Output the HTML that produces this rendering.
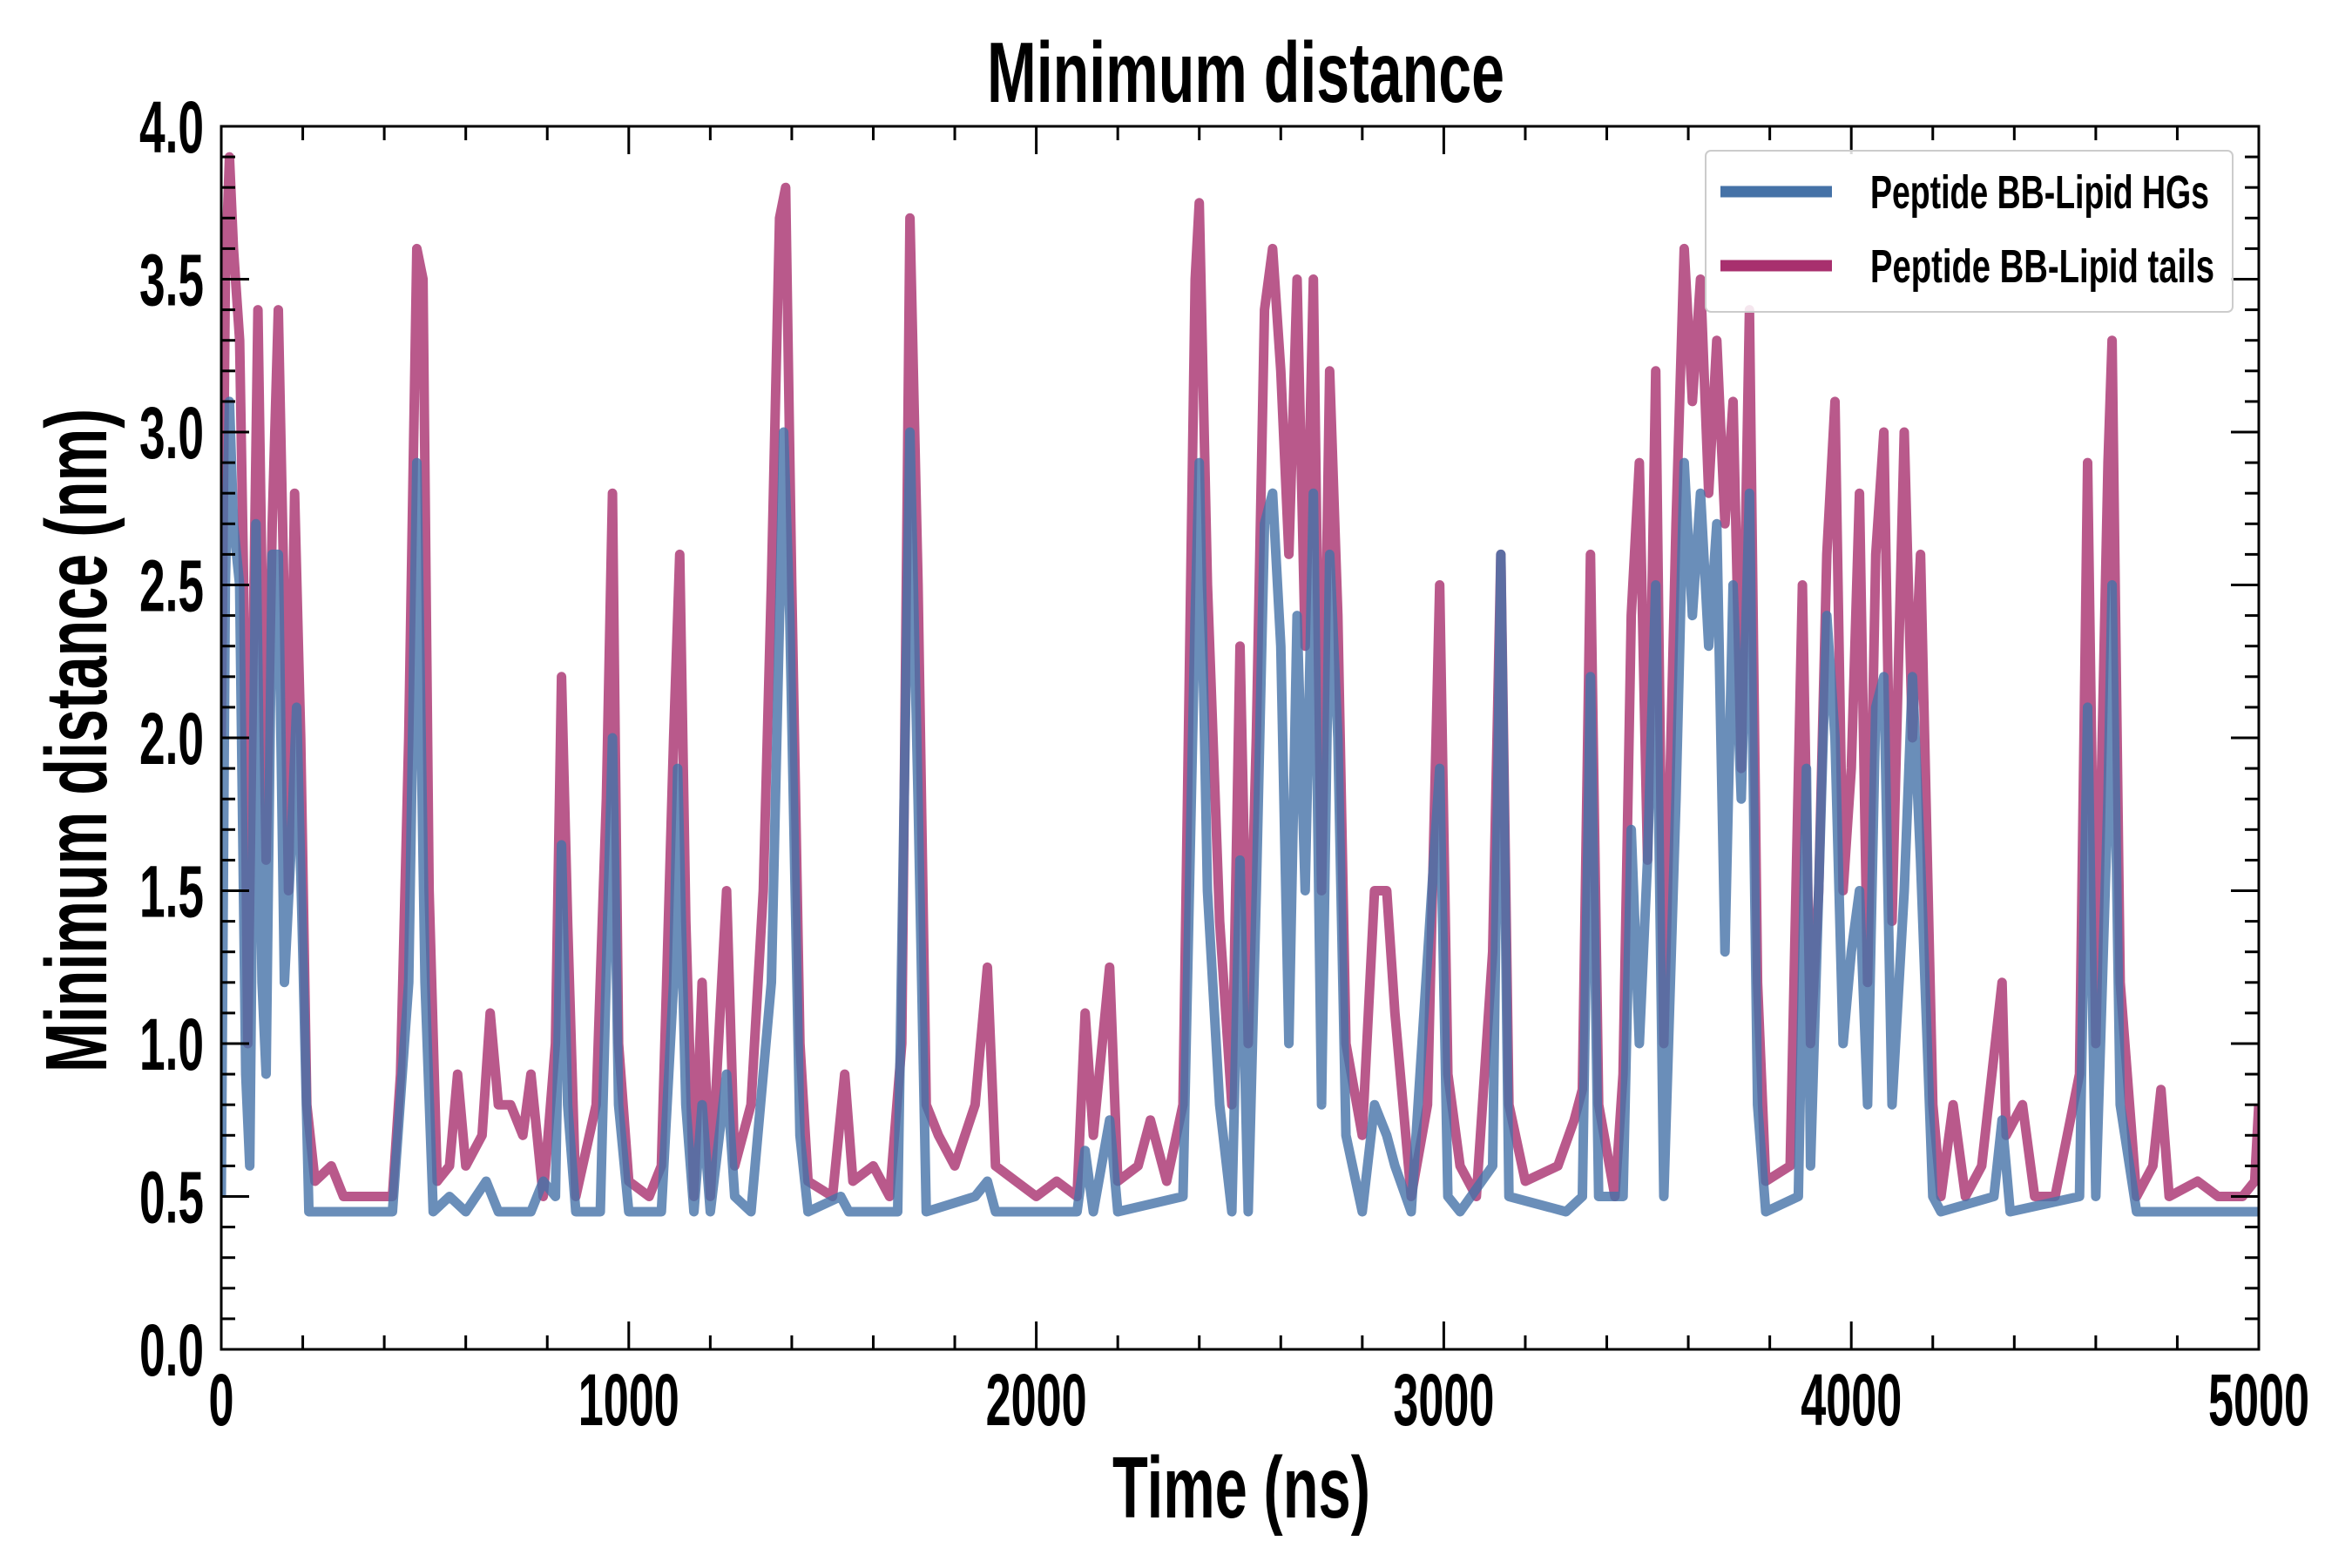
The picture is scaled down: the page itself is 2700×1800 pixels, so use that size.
<!DOCTYPE html>
<html><head><meta charset="utf-8">
<style>
html,body{margin:0;padding:0;background:#fff;}
svg{display:block;}
text{font-family:"Liberation Sans",sans-serif;font-weight:bold;fill:#000;}
</style></head>
<body>
<svg id="chart" width="2700" height="1800" viewBox="0 0 2700 1800" xmlns="http://www.w3.org/2000/svg">
<text x="1430" y="117" font-size="98" text-anchor="middle" textLength="594" lengthAdjust="spacingAndGlyphs">Minimum distance</text>
<g id="plot"></g>
<g id="axes"></g>
<text x="1425" y="1742" font-size="100" text-anchor="middle" textLength="296" lengthAdjust="spacingAndGlyphs">Time (ns)</text>
<text transform="translate(122,850) rotate(-90)" font-size="100" text-anchor="middle" textLength="762" lengthAdjust="spacingAndGlyphs">Minimum distance (nm)</text>
<g>
<rect x="1958" y="173" width="605" height="185" rx="6" fill="#fff" fill-opacity="0.85" stroke="#ccc" stroke-width="2"/>
<g>
<line x1="1975" y1="220" x2="2103" y2="220" stroke="#4572a7" stroke-width="13"/>
<text x="2147" y="239" font-size="54" textLength="389" lengthAdjust="spacingAndGlyphs">Peptide BB-Lipid HGs</text>
</g>
<g>
<line x1="1975" y1="305" x2="2103" y2="305" stroke="#a8306e" stroke-width="13"/>
<text x="2147" y="324" font-size="54" textLength="395" lengthAdjust="spacingAndGlyphs">Peptide BB-Lipid tails</text>
</g>
</g>
</svg>
<script>
const tailsT=[0,10,20,30,45,55,65,75,90,100,110,125,140,155,165,180,195,210,230,270,300,420,440,460,480,495,510,530,560,580,600,640,660,680,710,740,760,790,820,835,850,870,920,945,960,975,1000,1050,1080,1110,1125,1140,1160,1180,1200,1240,1260,1300,1330,1350,1370,1385,1400,1420,1440,1500,1530,1550,1600,1640,1670,1690,1710,1730,1760,1800,1850,1880,1900,1950,2000,2050,2100,2120,2140,2180,2200,2250,2280,2320,2360,2390,2400,2420,2450,2480,2500,2520,2540,2560,2580,2600,2620,2640,2660,2680,2700,2720,2740,2760,2800,2830,2860,2880,2920,2960,2990,3010,3040,3080,3120,3140,3160,3200,3280,3320,3340,3360,3380,3420,3440,3460,3480,3500,3520,3540,3570,3590,3610,3630,3650,3670,3690,3710,3730,3750,3770,3790,3850,3880,3900,3920,3940,3960,3980,4000,4020,4040,4060,4080,4100,4130,4150,4170,4200,4220,4250,4280,4320,4370,4380,4420,4450,4500,4560,4580,4600,4630,4640,4660,4700,4740,4760,4780,4850,4900,4960,4990,5000];
const tailsV=[2.0,3.5,3.9,3.6,3.3,2.5,1.0,2.0,3.4,2.5,1.6,2.7,3.4,2.4,1.5,2.8,2.0,0.8,0.55,0.6,0.5,0.5,0.9,2.0,3.6,3.5,1.5,0.55,0.6,0.9,0.6,0.7,1.1,0.8,0.8,0.7,0.9,0.5,1.0,2.2,1.4,0.5,0.8,1.8,2.8,1.0,0.55,0.5,0.6,2.0,2.6,1.4,0.5,1.2,0.5,1.5,0.6,0.8,1.5,2.5,3.7,3.8,2.5,1.0,0.55,0.5,0.9,0.55,0.6,0.5,1.0,3.7,2.5,0.8,0.7,0.6,0.8,1.25,0.6,0.55,0.5,0.55,0.5,1.1,0.7,1.25,0.55,0.6,0.75,0.55,0.8,3.5,3.75,2.5,1.4,0.8,2.3,1.0,2.0,3.4,3.6,3.2,2.6,3.5,2.3,3.5,1.5,3.2,2.4,1.0,0.7,1.5,1.5,1.1,0.5,0.8,2.5,0.9,0.6,0.5,1.3,2.6,0.8,0.55,0.6,0.75,0.85,2.6,0.8,0.5,0.9,2.4,2.9,1.6,3.2,1.0,2.7,3.6,3.1,3.5,2.8,3.3,2.7,3.1,1.9,3.4,1.2,0.55,0.6,2.5,1.0,1.5,2.6,3.1,1.5,1.9,2.8,1.2,2.6,3.0,1.4,3.0,2.0,2.6,0.8,0.5,0.8,0.5,0.6,1.2,0.7,0.8,0.5,0.5,0.9,2.9,1.0,2.9,3.3,1.2,0.5,0.6,0.85,0.5,0.55,0.5,0.5,0.55,0.8];
const hgsT=[0,10,20,30,45,60,70,85,100,110,125,140,155,170,185,200,215,300,420,460,480,500,520,560,600,650,680,760,790,820,835,850,870,930,950,960,975,1000,1080,1110,1120,1140,1160,1180,1200,1240,1260,1300,1350,1380,1395,1420,1440,1520,1540,1660,1690,1710,1730,1850,1880,1900,2100,2120,2140,2180,2200,2360,2390,2400,2420,2450,2480,2500,2520,2540,2560,2580,2600,2620,2640,2660,2680,2700,2720,2740,2760,2800,2830,2860,2880,2920,2990,3010,3040,3120,3140,3160,3300,3340,3360,3380,3440,3460,3480,3500,3520,3540,3570,3590,3610,3630,3650,3670,3690,3710,3730,3750,3770,3790,3870,3890,3900,3940,3960,3980,4000,4020,4040,4060,4080,4100,4130,4150,4170,4200,4220,4350,4370,4390,4560,4580,4600,4630,4640,4660,4700,5000];
const hgsV=[0.5,2.5,3.1,2.7,2.5,0.9,0.6,2.7,1.2,0.9,2.6,2.6,1.2,1.6,2.1,1.3,0.45,0.45,0.45,1.2,2.9,1.2,0.45,0.5,0.45,0.55,0.45,0.45,0.55,0.5,1.65,0.8,0.45,0.45,1.5,2.0,0.8,0.45,0.45,1.2,1.9,0.8,0.45,0.8,0.45,0.9,0.5,0.45,1.2,3.0,2.4,0.7,0.45,0.5,0.45,0.45,3.0,1.8,0.45,0.5,0.55,0.45,0.45,0.65,0.45,0.75,0.45,0.5,2.4,2.9,1.5,0.8,0.45,1.6,0.45,1.5,2.7,2.8,2.3,1.0,2.4,1.5,2.8,0.8,2.6,2.0,0.7,0.45,0.8,0.7,0.6,0.45,1.9,0.5,0.45,0.6,2.6,0.5,0.45,0.5,2.2,0.5,0.5,1.7,1.0,1.6,2.5,0.5,1.8,2.9,2.4,2.8,2.3,2.7,1.3,2.5,1.8,2.8,0.8,0.45,0.5,1.9,0.6,2.4,2.0,1.0,1.3,1.5,0.8,2.1,2.2,0.8,1.5,2.2,1.6,0.5,0.45,0.5,0.75,0.45,0.5,2.1,0.5,1.8,2.5,0.8,0.45,0.45];
const xTicks=[0,1000,2000,3000,4000,5000];
const xTickLabels=["0","1000","2000","3000","4000","5000"];
const yTicks=[0,0.5,1,1.5,2,2.5,3,3.5,4];
const yTickLabels=["0.0","0.5","1.0","1.5","2.0","2.5","3.0","3.5","4.0"];

const L=254,R=2593,T=145,B=1549;
const xS=t=>L+(t/5000)*(R-L);
const yS=v=>B-(v/4)*(B-T);
const NS="http://www.w3.org/2000/svg";
const plot=document.getElementById('plot');
const axes=document.getElementById('axes');
function mk(tag,attrs,parent){const e=document.createElementNS(NS,tag);for(const k in attrs)e.setAttribute(k,attrs[k]);parent.appendChild(e);return e;}

const clip=mk('clipPath',{id:'pc'},plot);
mk('rect',{x:L,y:T,width:R-L,height:B-T},clip);
function series(T_,V_,color,name){
  const d=T_.map((t,i)=>(i?'L':'M')+xS(t).toFixed(1)+' '+yS(V_[i]).toFixed(1)).join(' ');
  const p=mk('path',{d:d,fill:'none',stroke:color,'stroke-width':11,'stroke-opacity':0.8,'stroke-linejoin':'round','clip-path':'url(#pc)'},plot);
  
  
}
series(tailsT,tailsV,'#a8306e','line-lipid-tails');
series(hgsT,hgsV,'#4572a7','line-lipid-hgs');

const frame=mk('rect',{x:L,y:T,width:R-L,height:B-T,fill:'none',stroke:'#000','stroke-width':3},axes);


for(let t=0;t<=5000;t+=200){
  const x=xS(t),len=(t%1000===0)?32:16;
  mk('line',{x1:x,y1:B,x2:x,y2:B-len,stroke:'#000','stroke-width':3},axes);
  mk('line',{x1:x,y1:T,x2:x,y2:T+len,stroke:'#000','stroke-width':3},axes);
}
for(let k=0;k<=40;k++){
  const y=yS(k/10),len=(k%5===0)?32:16;
  mk('line',{x1:L,y1:y,x2:L+len,y2:y,stroke:'#000','stroke-width':3},axes);
  mk('line',{x1:R,y1:y,x2:R-len,y2:y,stroke:'#000','stroke-width':3},axes);
}
xTicks.forEach((t,i)=>{
  const lbl=xTickLabels[i];
  const tx=mk('text',{x:xS(t),y:1636,'font-size':84,'text-anchor':'middle',textLength:Math.round(lbl.length*29),lengthAdjust:'spacingAndGlyphs'},axes);
  tx.textContent=lbl;
  
  
});
yTicks.forEach((v,i)=>{
  const tx=mk('text',{x:234,y:yS(v)+30,'font-size':84,'text-anchor':'end',textLength:74,lengthAdjust:'spacingAndGlyphs'},axes);
  tx.textContent=yTickLabels[i];
  
  
});
</script>
</body></html>
